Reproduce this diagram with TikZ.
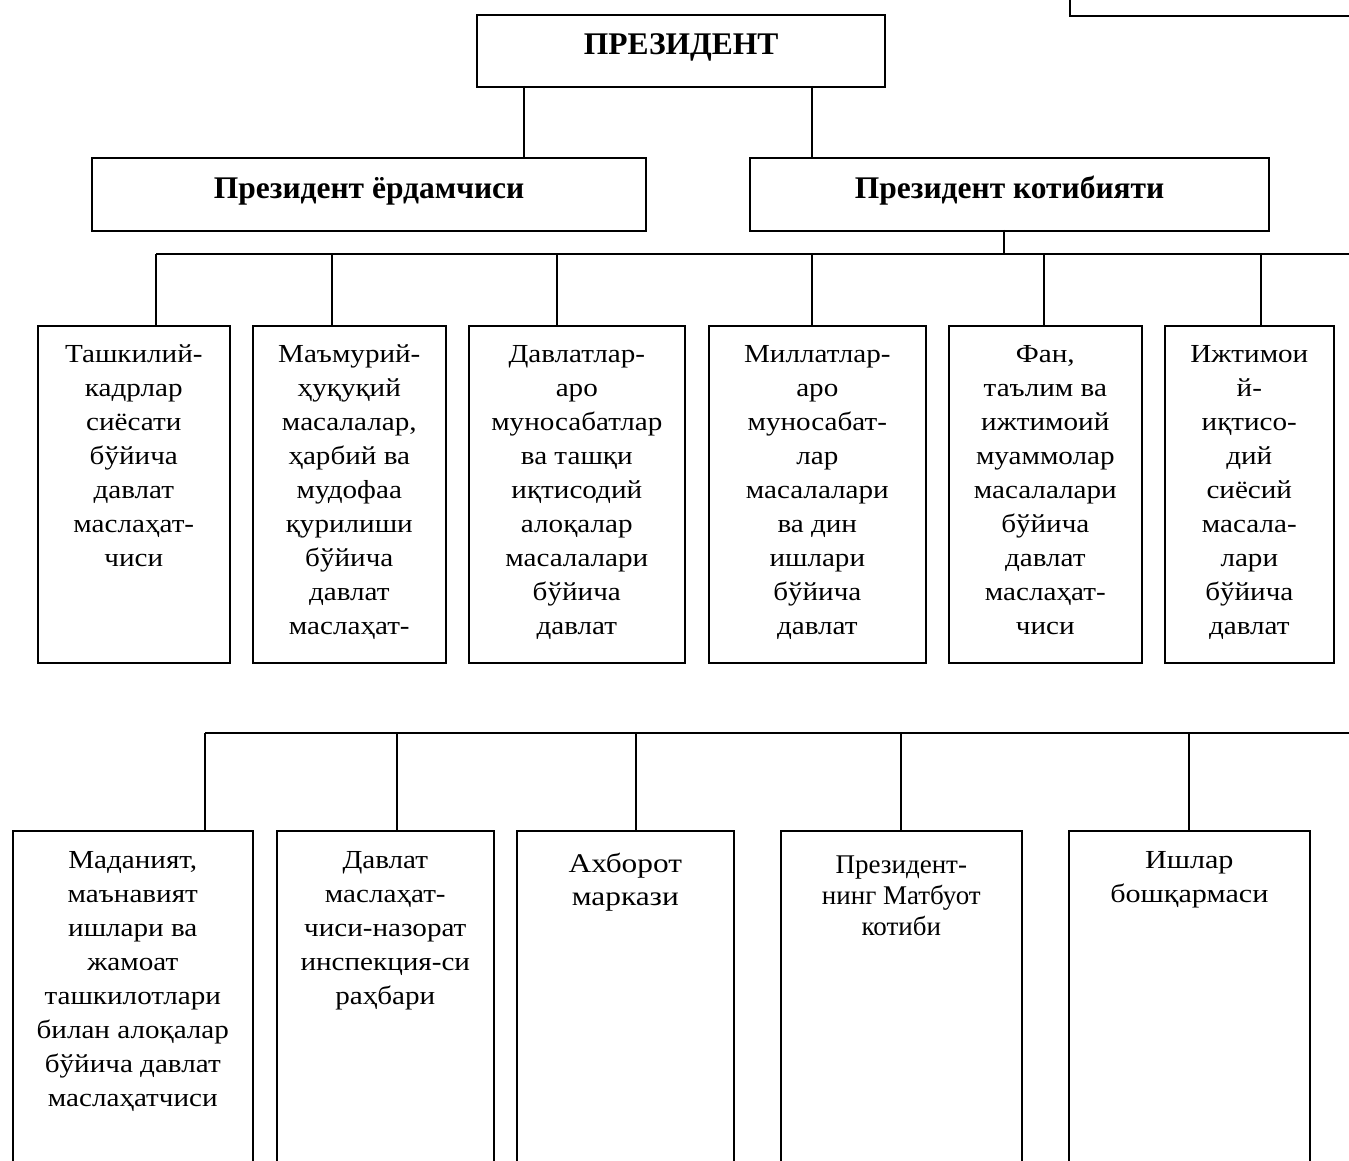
\documentclass[tikz,border=0pt]{standalone}
\usepackage{fontspec}
\setmainfont{Liberation Serif}
\newfontfamily\widefont[FakeStretch=1.12]{Liberation Serif}
\newfontfamily\widerfont[FakeStretch=1.16]{Liberation Serif}
\begin{document}
\begin{tikzpicture}[x=1pt,y=-1pt,
  box/.style={draw, line width=1.6pt, inner sep=0pt, anchor=north west},
  topbox/.style={draw, line width=2.2pt, inner sep=0pt, anchor=north west},
  wire/.style={line width=1.3pt},
  txt/.style={anchor=north, align=center, inner sep=0pt, font=\widefont\fontsize{26}{34}\selectfont},
  head/.style={font=\fontsize{31.5}{34}\selectfont\bfseries, inner sep=0pt, anchor=base}]
\useasboundingbox (0,0) rectangle (1349,1161);
\clip (0,0) rectangle (1349,1161);
% top-right partial box
\node[topbox, minimum width=330pt, minimum height=80pt] (corner) at (1069,-65) {};
% top level
\node[topbox, minimum width=408pt, minimum height=72pt] (pres) at (476,14) {};
\node[head] (prest) at (pres.center |- 0,55) {ПРЕЗИДЕНТ};
\node[topbox, minimum width=554pt, minimum height=73pt] (yord) at (91,157) {};
\node[head] (yordt) at (yord.center |- 0,199) {Президент ёрдамчиси};
\node[topbox, minimum width=519pt, minimum height=73pt] (kot) at (749,157) {};
\node[head] (kott) at (kot.center |- 0,199) {Президент котибияти};
\coordinate (p1) at (524,86);
\coordinate (p2) at (812,86);
\draw[wire] (p1) -- (p1 |- yord.north);
\draw[wire] (p2) -- (p2 |- kot.north);
% row 1
\node[box, minimum width=192pt, minimum height=337pt] (b1) at (37,325) {};
\node[box, minimum width=193pt, minimum height=337pt] (b2) at (252,325) {};
\node[box, minimum width=216pt, minimum height=337pt] (b3) at (468,325) {};
\node[box, minimum width=217pt, minimum height=337pt] (b4) at (708,325) {};
\node[box, minimum width=193pt, minimum height=337pt] (b5) at (948,325) {};
\node[box, minimum width=169pt, minimum height=337pt] (b6) at (1164,325) {};
\node[txt] (t1) at (b1.north |- 0,338.2) {\strut Ташкилий-\\кадрлар\\сиёсати\\бўйича\\давлат\\маслаҳат-\\чиси};
\node[txt] (t2) at (b2.north |- 0,338.2) {\strut Маъмурий-\\ҳуқуқий\\масалалар,\\ҳарбий ва\\мудофаа\\қурилиши\\бўйича\\давлат\\маслаҳат-};
\node[txt] (t3) at (b3.north |- 0,338.2) {\strut Давлатлар-\\аро\\муносабатлар\\ва ташқи\\иқтисодий\\алоқалар\\масалалари\\бўйича\\давлат};
\node[txt] (t4) at (b4.north |- 0,338.2) {\strut Миллатлар-\\аро\\муносабат-\\лар\\масалалари\\ва дин\\ишлари\\бўйича\\давлат};
\node[txt] (t5) at (b5.north |- 0,338.2) {\strut Фан,\\таълим ва\\ижтимоий\\муаммолар\\масалалари\\бўйича\\давлат\\маслаҳат-\\чиси};
\node[txt] (t6) at (b6.north |- 0,338.2) {\strut Ижтимои\\й-\\иқтисо-\\дий\\сиёсий\\масала-\\лари\\бўйича\\давлат};
\coordinate (k1) at (1004,230);
\coordinate (bus1) at (1004,254);
\coordinate (bus1L) at (156,254);
\coordinate (bus1R) at (1360,254);
\draw[wire] (k1) -- (bus1);
\draw[wire] (bus1L) -- (bus1R);
\foreach \xx/\bb in {156/b1,332/b2,557/b3,812/b4,1044/b5,1261/b6}
  \draw[wire] (\xx,254) -- (\xx,0 |- \bb.north);
% row 2
\node[box, minimum width=240pt, minimum height=400pt] (c1) at (12,830) {};
\node[box, minimum width=217pt, minimum height=400pt] (c2) at (276,830) {};
\node[box, minimum width=217pt, minimum height=400pt] (c3) at (516,830) {};
\node[box, minimum width=241pt, minimum height=400pt] (c4) at (780,830) {};
\node[box, minimum width=241pt, minimum height=400pt] (c5) at (1068,830) {};
\node[txt] (u1) at (c1.north |- 0,844.2) {\strut Маданият,\\маънавият\\ишлари ва\\жамоат\\ташкилотлари\\билан алоқалар\\бўйича давлат\\маслаҳатчиси};
\node[txt] (u2) at (c2.north |- 0,844.2) {\strut Давлат\\маслаҳат-\\чиси-назорат\\инспекция-си\\раҳбари};
\node[txt, font=\widerfont\fontsize{27}{33}\selectfont] (u3) at (c3.north |- 0,848.9) {\strut Ахборот\\маркази};
\node[txt, font=\normalfont\fontsize{27}{31}\selectfont] (u4) at (c4.north |- 0,851.3) {\strut Президент-\\нинг Матбуот\\котиби};
\node[txt, font=\widerfont\fontsize{26}{34}\selectfont] (u5) at (c5.north |- 0,844.2) {\strut Ишлар\\бошқармаси};
\coordinate (bus2L) at (205,733);
\coordinate (bus2R) at (1360,733);
\draw[wire] (bus2L) -- (bus2R);
\foreach \xx/\cc in {205/c1,397/c2,636/c3,901/c4,1189/c5}
  \draw[wire] (\xx,733) -- (\xx,0 |- \cc.north);
\end{tikzpicture}
\end{document}
